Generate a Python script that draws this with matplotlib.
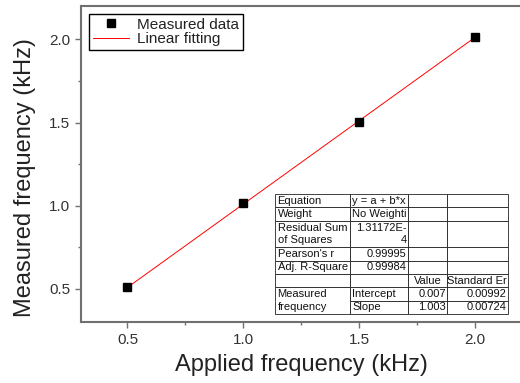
import numpy as np
import matplotlib
matplotlib.use('Agg')
import matplotlib.pyplot as plt
from matplotlib.ticker import MultipleLocator

plt.rcParams['font.family'] = ['Liberation Sans', 'DejaVu Sans']

# measured points
applied = [0.5, 1.0, 1.5, 2.0]
measured = [0.51, 1.015, 1.505, 2.015]

# fit result (from the fit table)
intercept = 0.007
slope = 1.003

table_rows = [
    ['Equation', 'y = a + b*x', '', ''],
    ['Weight', 'No Weighti', '', ''],
    ['Residual Sum\nof Squares', '1.31172E-\n4', '', ''],
    ["Pearson's r", '0.99995', '', ''],
    ['Adj. R-Square', '0.99984', '', ''],
    ['', '', 'Value', 'Standard Er'],
    ['Measured', 'Intercept', '0.007', '0.00992'],
    ['frequency', 'Slope', '1.003', '0.00724'],
]
col_widths = [0.322, 0.249, 0.165, 0.264]

fig = plt.figure(figsize=(5.2, 3.83), dpi=100)
ax = fig.add_axes([0.156, 0.159, 0.847, 0.825])

axis_col = '#707070'
text_col = '#333333'

xfit = np.array([0.5, 2.0])
ax.plot(xfit, intercept + slope * xfit, color='red', lw=0.7, label='Linear fitting', zorder=2)
ax.plot(applied, measured, 's', color='black', ms=5.5, label='Measured data', zorder=3)

ax.set_xlim(0.3, 2.2)
ax.set_ylim(0.3, 2.2)
ax.xaxis.set_minor_locator(MultipleLocator(0.25))
ax.yaxis.set_minor_locator(MultipleLocator(0.25))
ax.set_xticks([0.5, 1.0, 1.5, 2.0])
ax.set_yticks([0.5, 1.0, 1.5, 2.0])

for s in ax.spines.values():
    s.set_color(axis_col)
    s.set_linewidth(1.5)
ax.spines['right'].set_visible(False)
ax.tick_params(which='major', direction='out', length=4, width=1, color=axis_col,
               labelsize=11, labelcolor=text_col, pad=4)
ax.tick_params(which='minor', direction='out', length=2.5, width=1, color=axis_col)

ax.set_xlabel('Applied frequency (kHz)', fontsize=17, color='#222222', labelpad=5)
ax.set_ylabel('Measured frequency (kHz)', fontsize=17, color='#222222')
ax.yaxis.set_label_coords(-0.102, 0.456)

handles, labels = ax.get_legend_handles_labels()
leg = ax.legend(handles[::-1], labels[::-1], loc='upper left', fontsize=11,
                fancybox=False, framealpha=1, edgecolor='black',
                borderpad=0.25, labelspacing=0.05, handlelength=2.4,
                handletextpad=0.5, borderaxespad=0.5, numpoints=1)
leg.get_frame().set_linewidth(1.0)
for t in leg.get_texts():
    t.set_color('#222222')

tab = ax.table(cellText=table_rows, colWidths=col_widths,
               bbox=[0.441, 0.026, 0.529, 0.379], zorder=5)
tab.auto_set_font_size(False)
tab.set_fontsize(8)
unit = 1.0
for (r, c), cell in tab.get_celld().items():
    cell.set_linewidth(0.6)
    cell.set_edgecolor('#222222')
    cell.set_height(2 * unit if r == 2 else unit)
    cell.PAD = 0.03
    txt = cell.get_text()
    txt.set_color('#111111')
    if c == 0 or (c == 1 and r in (0, 1, 6, 7)):
        cell._loc = 'left'
        txt.set_ha('left')
    elif c == 2 and r == 5:
        cell._loc = 'center'
        txt.set_ha('center')
    else:
        cell._loc = 'right'
        txt.set_ha('right')
tab[6, 0].visible_edges = 'LTR'
tab[7, 0].visible_edges = 'LBR'

fig.savefig('out.png', dpi=100)
